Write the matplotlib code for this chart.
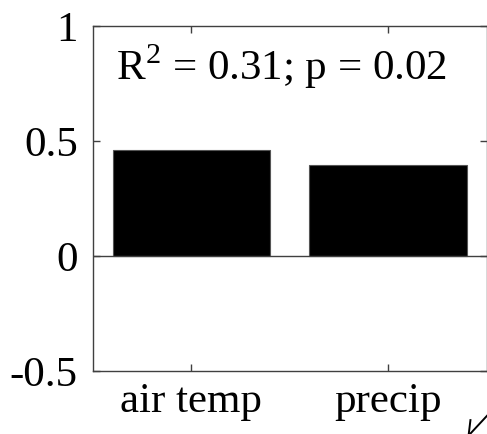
import matplotlib
matplotlib.use('Agg')
import matplotlib.pyplot as plt

# chart values
categories = ['air temp', 'precip']
coefficients = [0.461, 0.396]
y_ticks = [-0.5, 0, 0.5, 1]
y_tick_labels = ['-0.5', '0', '0.5', '1']
stats_label = 'R$^2$ = 0.31; p = 0.02'

plt.rcParams['font.family'] = ['Liberation Serif', 'DejaVu Serif']
plt.rcParams['mathtext.fontset'] = 'custom'
plt.rcParams['mathtext.rm'] = 'Liberation Serif'

axis_grey = '#404040'

fig = plt.figure(figsize=(4.87, 4.34), dpi=100)
ax = fig.add_axes([0.191, 0.145, 0.808, 0.795])

x = list(range(1, len(categories) + 1))
ax.bar(x, coefficients, width=0.8, color='black', edgecolor='#555555', linewidth=0.8, zorder=2)
ax.axhline(0, color=axis_grey, linewidth=1.0, zorder=3)

ax.set_xlim(0.5, 2.5)
ax.set_ylim(-0.5, 1)
ax.set_xticks(x)
ax.set_xticklabels(categories)
ax.set_yticks(y_ticks)
ax.set_yticklabels(y_tick_labels)

ax.tick_params(direction='in', length=5, width=1.0, color=axis_grey,
               top=True, right=True, labelsize=31, labelcolor='black')
ax.tick_params(axis='y', pad=11)
ax.tick_params(axis='x', pad=8)
for side in ax.spines.values():
    side.set_color(axis_grey)
    side.set_linewidth(1.0)

ax.text(0.058, 0.845, stats_label, transform=ax.transAxes, fontsize=31,
        ha='left', va='baseline')

# fragment of the neighbouring panel's arrow, cut by the crop
fig.add_artist(plt.Line2D([1.0, 0.961], [0.042, -0.005], color='black', linewidth=1.4,
                          transform=fig.transFigure))
fig.add_artist(plt.Line2D([0.966, 0.962], [0.032, -0.005], color='black', linewidth=1.4,
                          transform=fig.transFigure))

fig.savefig('out.png', dpi=100)
